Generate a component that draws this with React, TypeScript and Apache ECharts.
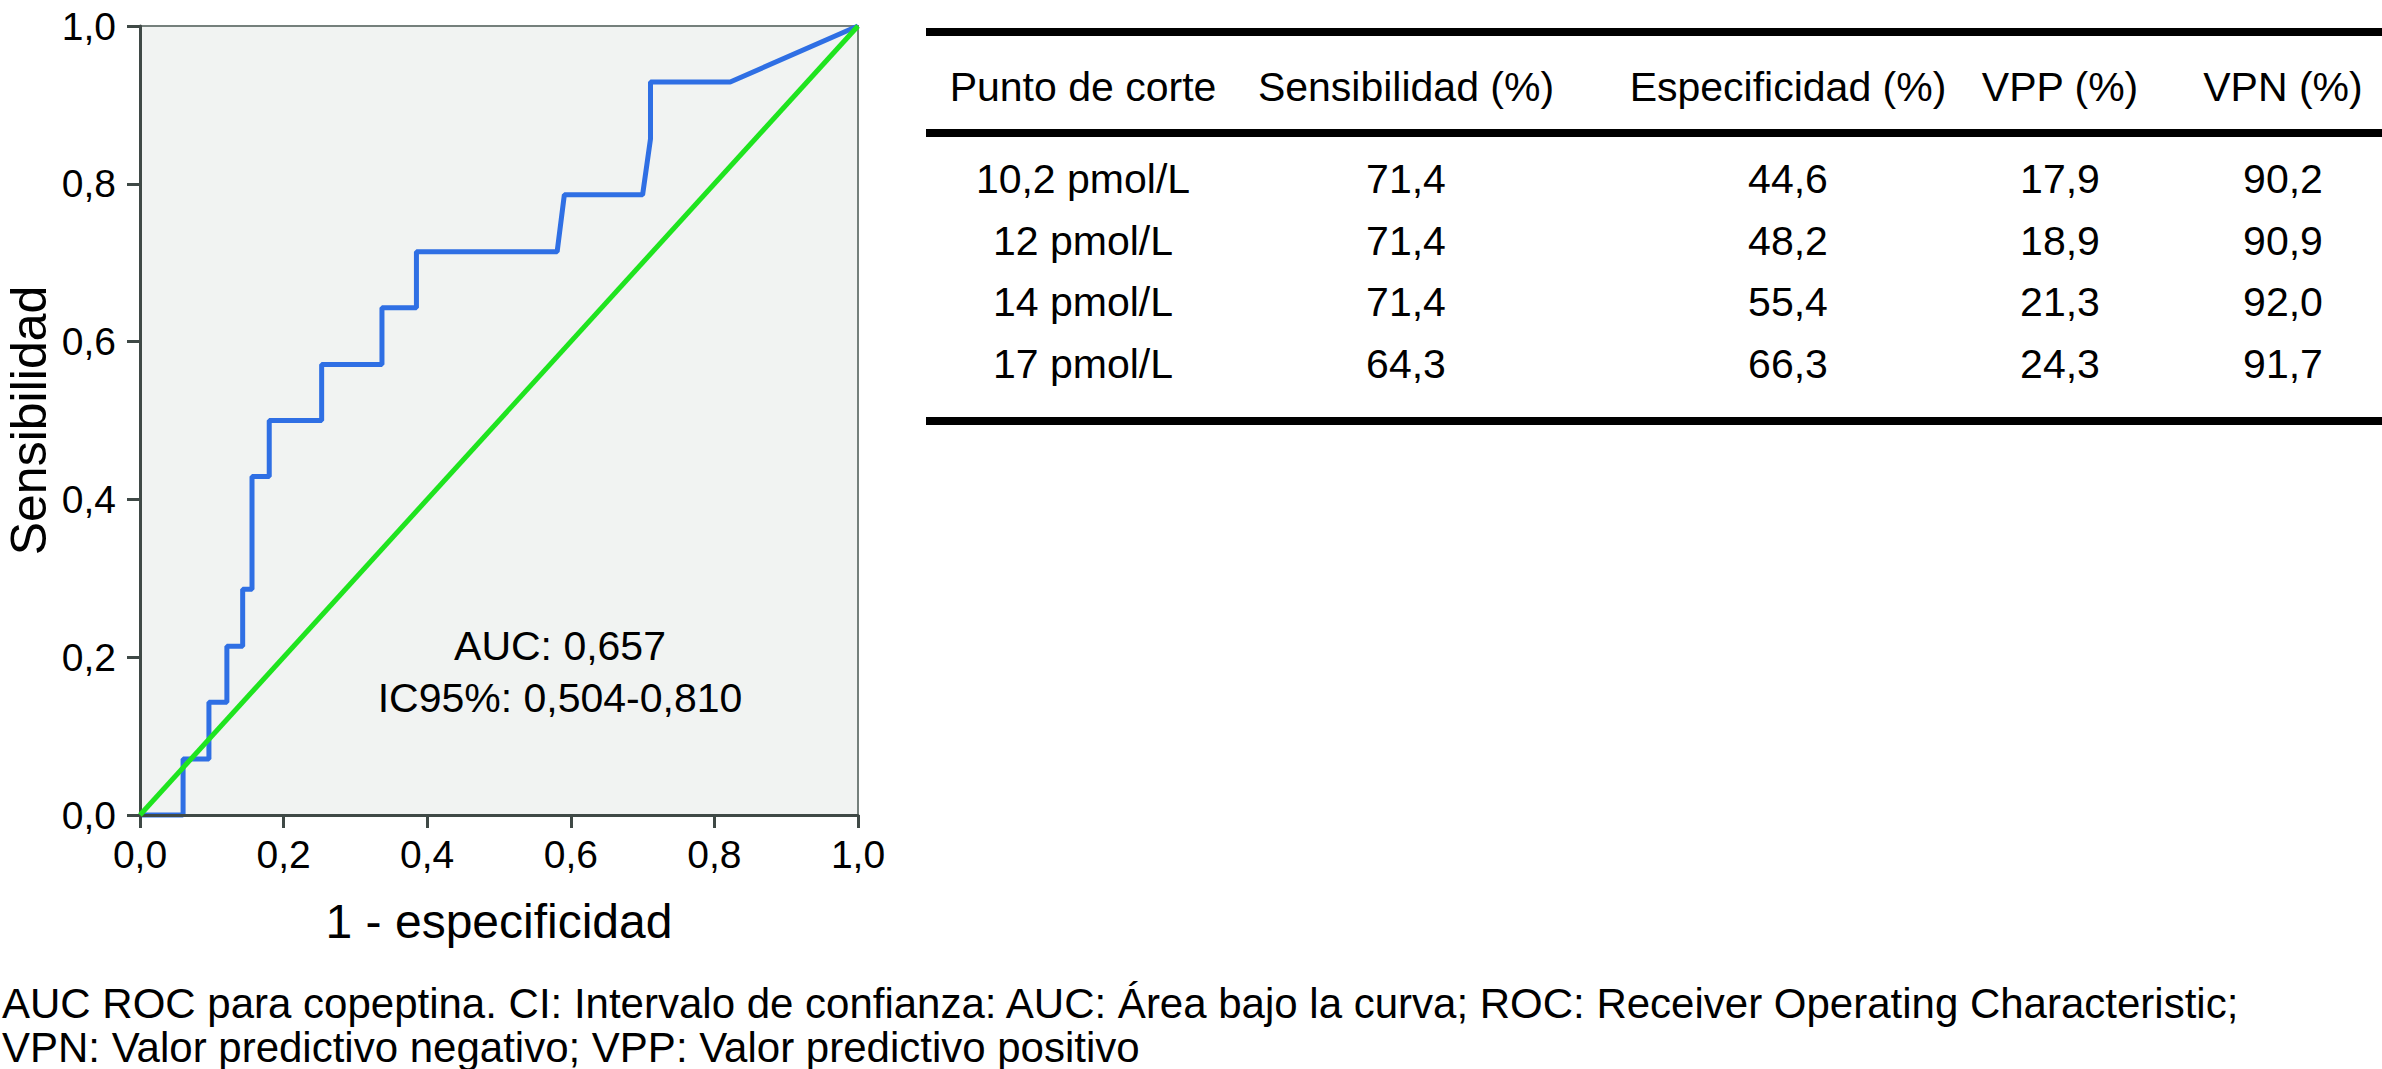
import React, { useEffect, useRef } from "react";
import * as echarts from "echarts";

const FONT = "Liberation Sans, Arial, Helvetica, sans-serif";

// ROC curve (1 - especificidad, sensibilidad)
const rocFpr = [0, 0.06, 0.06, 0.096, 0.096, 0.121, 0.121, 0.143, 0.143, 0.156, 0.156, 0.18, 0.18, 0.253, 0.253, 0.337, 0.337, 0.385, 0.385, 0.581, 0.591, 0.7, 0.711, 0.711, 0.822, 1];
const rocTpr = [0, 0, 0.071, 0.071, 0.143, 0.143, 0.214, 0.214, 0.286, 0.286, 0.429, 0.429, 0.5, 0.5, 0.571, 0.571, 0.643, 0.643, 0.714, 0.714, 0.786, 0.786, 0.857, 0.929, 0.929, 1];
const refFpr = [0, 1];
const refTpr = [0, 1];

const xAxisTitle = "1 - especificidad";
const yAxisTitle = "Sensibilidad";
const aucLines = ["AUC: 0,657", "IC95%: 0,504-0,810"];

const tableHeaders = ["Punto de corte", "Sensibilidad (%)", "Especificidad (%)", "VPP (%)", "VPN (%)"];
const cutoffs = ["10,2 pmol/L", "12 pmol/L", "14 pmol/L", "17 pmol/L"];
const sensitivity = ["71,4", "71,4", "71,4", "64,3"];
const specificity = ["44,6", "48,2", "55,4", "66,3"];
const ppv = ["17,9", "18,9", "21,3", "24,3"];
const npv = ["90,2", "90,9", "92,0", "91,7"];

const captionLines = [
  "AUC ROC para copeptina. CI: Intervalo de confianza: AUC: Área bajo la curva; ROC: Receiver Operating Characteristic;",
  "VPN: Valor predictivo negativo; VPP: Valor predictivo positivo",
];

const W = 2382;
const H = 1069;

const fmt = (v: number) => v.toFixed(1).replace(".", ",");

function buildGraphics() {
  const g: any[] = [];
  const txt = (text: string, x: number, y: number, size: number, align = "center") => ({
    type: "text",
    x,
    y,
    silent: true,
    z: 10,
    style: { text, fontSize: size, fontFamily: FONT, fill: "#000", align, verticalAlign: "middle" },
  });
  // AUC annotation
  const aucY = [646, 698];
  aucLines.forEach((t, i) => g.push(txt(t, 560, aucY[i], 41)));

  // Table
  const tableLeft = 926;
  const rules = [28, 129, 417];
  rules.forEach((y) =>
    g.push({ type: "rect", silent: true, shape: { x: tableLeft, y, width: W - tableLeft, height: 8 }, style: { fill: "#000" } })
  );
  const colX = [1083, 1406, 1788, 2060, 2283];
  tableHeaders.forEach((h, i) => g.push(txt(h, colX[i], 87, 41)));
  const rowY = [179, 241, 302, 364];
  const cols = [cutoffs, sensitivity, specificity, ppv, npv];
  cols.forEach((col, ci) => col.forEach((v, ri) => g.push(txt(v, colX[ci], rowY[ri], 41))));

  // Caption
  const capY = [1003, 1047];
  captionLines.forEach((t, i) => g.push(txt(t, 2, capY[i], 42, "left")));
  return g;
}

export default function App() {
  const ref = useRef<HTMLDivElement>(null);
  useEffect(() => {
    if (!ref.current) return;
    const chart = echarts.init(ref.current, undefined, { renderer: "svg", width: W, height: H });
    const axisColor = "#3f4946";
    chart.setOption({
      animation: false,
      backgroundColor: "#ffffff",
      grid: {
        left: 140,
        top: 26,
        width: 718,
        height: 789,
        show: true,
        backgroundColor: "#f1f3f2",
        borderColor: "#75807c",
        borderWidth: 2,
      },
      xAxis: {
        type: "value",
        min: 0,
        max: 1,
        interval: 0.2,
        z: 3,
        name: xAxisTitle,
        nameLocation: "middle",
        nameGap: 106,
        nameTextStyle: { fontSize: 48, color: "#000", fontFamily: FONT, verticalAlign: "middle" },
        axisLine: { show: true, onZero: false, lineStyle: { color: axisColor, width: 3 } },
        axisTick: { show: true, length: 13, lineStyle: { color: axisColor, width: 3 } },
        axisLabel: { fontSize: 39, color: "#000", fontFamily: FONT, margin: 20, formatter: fmt, showMinLabel: true, showMaxLabel: true },
        splitLine: { show: false },
      },
      yAxis: {
        type: "value",
        min: 0,
        max: 1,
        interval: 0.2,
        name: yAxisTitle,
        nameLocation: "middle",
        nameGap: 111,
        nameTextStyle: { fontSize: 50, color: "#000", fontFamily: FONT, verticalAlign: "middle" },
        axisLine: { show: true, onZero: false, lineStyle: { color: axisColor, width: 3 } },
        axisTick: { show: true, length: 13, lineStyle: { color: axisColor, width: 3 } },
        axisLabel: { fontSize: 39, color: "#000", fontFamily: FONT, margin: 24, formatter: fmt, showMinLabel: true, showMaxLabel: true },
        splitLine: { show: false },
      },
      series: [
        {
          type: "line",
          data: rocFpr.map((x, i) => [x, rocTpr[i]]),
          symbol: "none",
          clip: false,
          lineStyle: { color: "#2f6fe4", width: 5 },
          z: 2,
        },
        {
          type: "line",
          data: refFpr.map((x, i) => [x, refTpr[i]]),
          symbol: "none",
          clip: false,
          lineStyle: { color: "#1fe41f", width: 5 },
          z: 4,
        },
      ],
      graphic: buildGraphics(),
    });
    return () => chart.dispose();
  }, []);
  return (
    <div
      ref={ref}
      style={{ position: "fixed", left: 0, top: 0, width: W, height: H, background: "#fff" }}
    />
  );
}
